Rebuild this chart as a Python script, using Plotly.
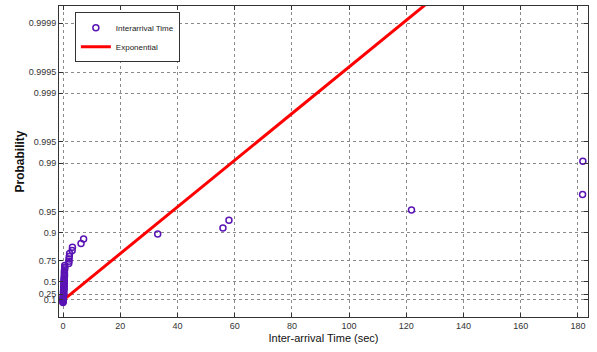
import numpy as np
import plotly.graph_objects as go

# Sorted inter-arrival times (sec) and their plotted probabilities
interarrival_x = [0, 0, 0, 0, 0, 0.1, 0.1, 0.1, 0.1, 0.1, 0.1,
                  0.2, 0.2, 0.2, 0.2, 0.2, 0.2, 0.2, 0.3, 0.3, 0.3, 0.3, 0.3, 0.3,
                  0.4, 0.4, 0.4, 0.4, 0.4, 0.4, 0.5, 0.5, 0.5, 0.5, 0.5, 0.6, 0.6, 0.6,
                  2.0, 2.1, 2.1, 2.2, 2.3, 3.2, 3.3, 6.3, 7.2, 33.1, 55.9, 58.0,
                  121.8, 181.6, 181.7]
interarrival_p = [0.0094, 0.0283, 0.0472, 0.0660, 0.0849, 0.1038, 0.1226, 0.1415,
                  0.1604, 0.1792, 0.1981, 0.2170, 0.2358, 0.2547, 0.2736, 0.2925,
                  0.3113, 0.3302, 0.3491, 0.3679, 0.3868, 0.4057, 0.4245, 0.4434,
                  0.4623, 0.4811, 0.5000, 0.5189, 0.5377, 0.5566, 0.5755, 0.5943,
                  0.6132, 0.6321, 0.6509, 0.6698, 0.6887, 0.7075, 0.7264, 0.7453,
                  0.7642, 0.7830, 0.8019, 0.8208, 0.8396, 0.8585, 0.8774, 0.8962,
                  0.9151, 0.9340, 0.9528, 0.9717, 0.9906]

# Exponential reference line parameters
exp_mu = 13.0
exp_offset = 0.08
exp_line_x = [-1.1, 135.0]

prob_ticks = [0.1, 0.25, 0.5, 0.75, 0.9, 0.95, 0.99, 0.995, 0.999, 0.9995, 0.9999]
prob_tick_labels = ["0.1", "0.25", "0.5", "0.75", "0.9", "0.95", "0.99", "0.995",
                    "0.999", "0.9995", "0.9999"]
x_ticks = [0, 20, 40, 60, 80, 100, 120, 140, 160, 180]


def to_q(p):
    return -np.log(1.0 - np.asarray(p, dtype=float))


line_q = [exp_offset + x / exp_mu for x in exp_line_x]

purple = "#5a14b4"
fig = go.Figure()
fig.add_trace(go.Scatter(
    x=exp_line_x, y=line_q, mode="lines", name="Exponential",
    line=dict(color="#ff0000", width=3), cliponaxis=True))
fig.add_trace(go.Scatter(
    x=interarrival_x, y=to_q(interarrival_p), mode="markers", name="Interarrival Time",
    marker=dict(symbol="circle-open", size=6, color=purple, line=dict(width=1.5, color=purple))))

font = "Liberation Sans, Arial, sans-serif"
axis_common = dict(
    showline=True, linecolor="#333333", linewidth=1, mirror="allticks",
    ticks="inside", ticklen=4, tickcolor="#333333",
    showgrid=True, gridcolor="#8a8a8a", griddash="dot", gridwidth=1,
    zeroline=False, tickfont=dict(family=font, size=9, color="#333333"),
)

fig.update_layout(
    width=597, height=352,
    margin=dict(l=59, r=9, t=6, b=35),
    paper_bgcolor="white", plot_bgcolor="white",
    showlegend=True,
    legend=dict(x=0.03, y=0.98, xanchor="left", yanchor="top",
                bgcolor="white", bordercolor="#333333", borderwidth=1,
                font=dict(family=font, size=8, color="#222222"),
                traceorder="reversed", itemwidth=30,
                tracegroupgap=0),
    xaxis=dict(range=[-1.4, 183.5], tickvals=x_ticks,
               title=dict(text="Inter-arrival Time (sec)", standoff=4,
                          font=dict(family=font, size=11, color="#111111")),
               **axis_common),
    yaxis=dict(range=[-0.47, 9.78], tickvals=list(to_q(prob_ticks)), ticktext=prob_tick_labels,
               title=dict(text="<b>Probability</b>", standoff=1,
                          font=dict(family=font, size=12, color="#111111")),
               **axis_common),
)

fig.write_html("out.html")
